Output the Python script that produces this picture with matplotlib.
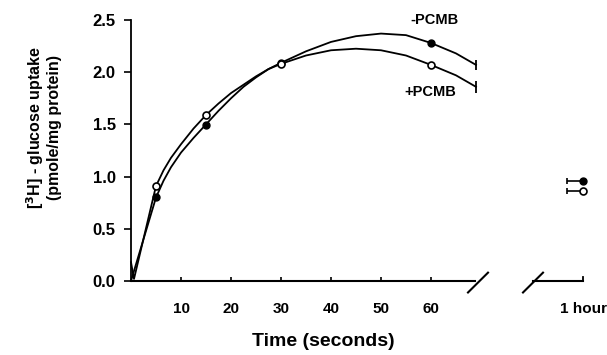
import matplotlib
matplotlib.use("Agg")
import matplotlib.pyplot as plt

plt.rcParams['font.family'] = ['Liberation Sans', 'DejaVu Sans']
plt.rcParams['font.weight'] = 'bold'

# measured points (time in s, uptake pmole/mg protein)
t_pts = [5, 15, 30, 60]
minus_pcmb = [0.80, 1.49, 2.09, 2.28]
plus_pcmb = [0.91, 1.59, 2.08, 2.07]

# fitted curves
t_curve_minus = [0, 5, 6.5, 8, 10, 12.5, 15, 17.5, 20, 22.5, 25, 27.5, 30, 35, 40, 45, 50, 55, 60, 65, 69]
curve_minus = [0.0, 0.80, 0.96, 1.09, 1.23, 1.37, 1.50, 1.63, 1.75, 1.86, 1.95, 2.03, 2.09, 2.20, 2.29,
               2.345, 2.37, 2.355, 2.28, 2.18, 2.07]
t_curve_plus = [0, 0.6, 5, 6.5, 8, 10, 12.5, 15, 17.5, 20, 22.5, 25, 27.5, 30, 35, 40, 45, 50, 55, 60, 65, 69]
curve_plus = [0.18, 0.02, 0.91, 1.06, 1.18, 1.31, 1.46, 1.59, 1.70, 1.80, 1.88, 1.96, 2.03, 2.08, 2.16,
              2.21, 2.225, 2.21, 2.16, 2.07, 1.97, 1.86]
end_err = 0.05

# 1 hour values
hour_pos = 90.4
hour_minus = 0.96
hour_plus = 0.86
hour_xerr = 3.2

xticks = [10, 20, 30, 40, 50, 60]
yticks = [0.0, 0.5, 1.0, 1.5, 2.0, 2.5]

fig = plt.figure(figsize=(6.07, 3.55), dpi=100)
ax = fig.add_axes([131 / 607, 74 / 355, 475 / 607, 261 / 355])
ax.set_xlim(0, 95)
ax.set_ylim(0, 2.5)

lw = 1.3
ax.plot(t_curve_minus, curve_minus, color='black', lw=lw, clip_on=False, solid_joinstyle='round')
ax.plot(t_curve_plus, curve_plus, color='black', lw=lw, clip_on=False, solid_joinstyle='round')
ax.plot(t_pts, minus_pcmb, 'o', color='black', ms=5, mfc='black', clip_on=False)
ax.plot(t_pts, plus_pcmb, 'o', color='black', ms=5, mfc='white', mew=1.2, clip_on=False)
# end caps
ax.errorbar([t_curve_minus[-1]], [curve_minus[-1]], yerr=end_err, fmt='none', ecolor='black', elinewidth=1.3)
ax.errorbar([t_curve_plus[-1]], [curve_plus[-1]], yerr=end_err + 0.01, fmt='none', ecolor='black', elinewidth=1.3)

# 1 hour points with one-sided horizontal error bars
ax.errorbar([hour_pos], [hour_minus], xerr=[[hour_xerr], [0]], fmt='o', color='black', ms=5, mfc='black',
            elinewidth=1.2, capsize=2.5, capthick=1.2)
ax.errorbar([hour_pos], [hour_plus], xerr=[[hour_xerr], [0]], fmt='o', color='black', ms=5, mfc='white',
            mew=1.2, elinewidth=1.2, capsize=2.5, capthick=1.2)

# spines
for s in ['top', 'right', 'bottom']:
    ax.spines[s].set_visible(False)
ax.spines['left'].set_linewidth(1.3)

# broken bottom axis
ax.plot([0, 68.8], [0, 0], color='black', lw=1.5, clip_on=False)
ax.plot([67.4, 71.4], [-0.11, 0.08], color='black', lw=1.5, clip_on=False)
ax.plot([78.4, 82.4], [-0.11, 0.08], color='black', lw=1.5, clip_on=False)
ax.plot([80.4, hour_pos], [0, 0], color='black', lw=1.5, clip_on=False)
ax.plot([hour_pos, hour_pos], [0, 0.04], color='black', lw=1.3, clip_on=False)

ax.set_yticks(yticks)
ax.set_yticklabels([f"{v:.1f}" for v in yticks])
ax.tick_params(axis='y', direction='out', length=5, width=1.2, labelsize=12, pad=6)
ax.set_xticks(xticks + [hour_pos])
ax.set_xticklabels([str(v) for v in xticks] + ['1 hour'])
ax.tick_params(axis='x', direction='in', length=3, width=1.2, labelsize=11, pad=15)
for lab in ax.get_xticklabels() + ax.get_yticklabels():
    lab.set_fontweight('bold')
ax.xaxis.get_major_ticks()[-1].tick1line.set_visible(False)

fig.text(323 / 607, 1 - 341 / 355, 'Time (seconds)', ha='center', va='center', fontsize=14, fontweight='bold')
fig.text(35 / 607, 1 - 128 / 355, '[$^{3}$H] - glucose uptake', rotation=90, ha='center', va='center',
         fontsize=11.5, fontweight='bold')
fig.text(55 / 607, 1 - 128 / 355, '(pmole/mg protein)', rotation=90, ha='center', va='center',
         fontsize=11.5, fontweight='bold')

ax.text(60.6, 2.5, '-PCMB', fontsize=10.5, fontweight='bold', ha='center', va='center', clip_on=False)
ax.text(59.8, 1.81, '+PCMB', fontsize=10.5, fontweight='bold', ha='center', va='center')

fig.savefig('out.png', dpi=100)
